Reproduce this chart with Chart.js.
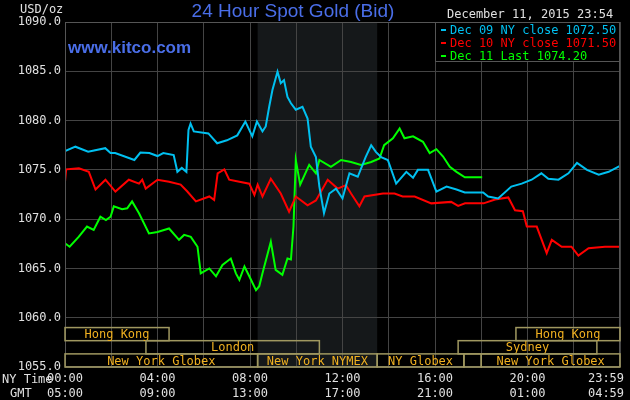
<!DOCTYPE html>
<html><head><meta charset="utf-8">
<script src="https://cdn.jsdelivr.net/npm/chart.js@4"></script>
<style>html,body{margin:0;padding:0;background:#000;}#c{display:block;}</style>
</head><body>
<div style="width:630px;height:400px"><canvas id="c" width="630" height="400"></canvas></div>
<script>
// ---- data (x = NY time in hours, y = USD/oz) ----
const blueHours = [0,0.45,1.0,1.74,1.97,2.17,3.0,3.26,3.65,4.0,4.25,4.7,4.86,5.05,5.25,5.34,5.43,5.57,6.2,6.58,7.0,7.45,7.8,8.1,8.3,8.54,8.68,8.83,8.97,9.19,9.33,9.47,9.62,9.77,9.98,10.27,10.49,10.63,10.85,11.0,11.2,11.43,11.72,12.0,12.3,12.66,13.0,13.24,13.45,13.67,13.96,14.32,14.76,15.05,15.26,15.7,16.06,16.5,16.93,17.29,18.08,18.3,18.73,19.3,19.75,20.18,20.6,20.9,21.34,21.77,22.14,22.57,23.08,23.51,24];
const blueValues = [1076.9,1077.35,1076.85,1077.2,1076.7,1076.7,1076.0,1076.75,1076.7,1076.4,1076.7,1076.5,1074.8,1075.2,1074.8,1079.05,1079.7,1078.9,1078.7,1077.7,1078.0,1078.5,1079.9,1078.4,1079.9,1078.9,1079.4,1081.4,1083.1,1084.96,1083.8,1084.1,1082.4,1081.75,1081.1,1081.4,1080.2,1077.35,1076.3,1073.3,1070.6,1072.6,1073.1,1072.1,1074.65,1074.3,1076.3,1077.5,1076.8,1076.3,1076.0,1073.6,1074.8,1074.2,1075.0,1075.0,1072.8,1073.3,1073.0,1072.7,1072.7,1072.3,1072.1,1073.3,1073.6,1074.0,1074.65,1074.1,1074.0,1074.65,1075.7,1075.0,1074.5,1074.8,1075.4];
const redHours = [0,0.05,0.6,1.03,1.32,1.75,2.18,2.76,3.2,3.34,3.49,4.0,4.5,5.0,5.29,5.66,6.24,6.45,6.6,6.89,7.1,7.54,7.97,8.19,8.33,8.54,8.9,9.33,9.69,9.98,10.49,10.85,11.36,11.79,12.15,12.37,12.73,12.95,13.75,14.25,14.6,15.12,15.84,16.7,17.0,17.3,18.1,18.6,19.17,19.46,19.8,19.97,20.4,20.83,21.05,21.48,21.9,22.2,22.64,23.35,24];
const redValues = [1073.8,1075.05,1075.15,1074.8,1073.0,1074.0,1072.8,1074.0,1073.6,1074.0,1073.1,1074.0,1073.8,1073.5,1072.8,1071.8,1072.3,1071.95,1074.65,1075.05,1074.0,1073.8,1073.6,1072.45,1073.5,1072.3,1074.1,1072.6,1070.75,1072.3,1071.4,1071.9,1074.0,1073.1,1073.45,1072.6,1071.3,1072.3,1072.6,1072.6,1072.3,1072.3,1071.6,1071.75,1071.35,1071.6,1071.6,1072.0,1072.2,1070.9,1070.8,1069.25,1069.25,1066.55,1067.9,1067.2,1067.2,1066.3,1067.05,1067.2,1067.2];
const greenHours = [0,0.2,0.59,0.95,1.24,1.53,1.77,1.97,2.11,2.47,2.69,2.9,3.2,3.63,4.0,4.5,4.93,5.15,5.44,5.73,5.87,6.24,6.53,6.81,7.17,7.39,7.54,7.76,7.97,8.26,8.4,8.54,8.9,9.11,9.4,9.62,9.77,9.88,9.98,10.17,10.56,10.85,11.0,11.5,11.94,12.37,12.8,13.24,13.6,13.8,14.18,14.47,14.68,15.05,15.48,15.77,16.06,16.35,16.64,16.93,17.29,18.04];
const greenValues = [1067.55,1067.2,1068.2,1069.25,1068.9,1070.25,1069.9,1070.25,1071.3,1071.0,1071.1,1071.8,1070.6,1068.55,1068.7,1069.05,1067.9,1068.4,1068.2,1067.2,1064.5,1065.0,1064.2,1065.35,1066.0,1064.5,1063.85,1065.2,1064.2,1062.8,1063.2,1064.5,1067.7,1064.85,1064.35,1066.0,1065.9,1069.25,1076.0,1073.5,1075.5,1074.65,1076.0,1075.3,1076.0,1075.8,1075.5,1075.8,1076.15,1077.5,1078.2,1079.2,1078.2,1078.4,1077.85,1076.7,1077.1,1076.35,1075.3,1074.8,1074.25,1074.25];
const seriesNames = ['Dec 09 NY close 1072.50','Dec 10 NY close 1071.50','Dec 11 Last 1074.20'];
const seriesColors = ['#00c0f0','#ff0000','#00ff00'];
const yTicks = [1055,1060,1065,1070,1075,1080,1085,1090];
const nyLabels = ['00:00','04:00','08:00','12:00','16:00','20:00','23:59'];
const gmtLabels = ['05:00','09:00','13:00','17:00','21:00','01:00','04:59'];
const labelHours = [0,4,8,12,16,20,24];
const sessionNames = ['Hong Kong','Hong Kong','London','Sydney','New York Globex','New York NYMEX','NY Globex','','New York Globex'];
const sessionStart = [0,19.5,3.5,17,0,8.33,13.5,17.25,18];
const sessionEnd   = [4.5,24,11,23,8.33,13.5,17.25,18,24];
const sessionRow   = [0,0,1,1,2,2,2,2,2];
const nymexShade = [8.33,13.5];

const toPts=(h,v)=>h.map((x,i)=>({x,y:v[i]}));
const mono='"DejaVu Sans Mono", monospace';

const deco={
 id:'deco',
 beforeDraw(c){
  const ctx=c.ctx,a=c.chartArea,x=c.scales.x;
  ctx.save();ctx.fillStyle='#000';ctx.fillRect(0,0,c.width,c.height);
  ctx.fillStyle='#15181a';
  const s=x.getPixelForValue(nymexShade[0]),e=x.getPixelForValue(nymexShade[1]);
  ctx.fillRect(s,a.top,e-s,a.bottom-a.top);
  ctx.restore();
 },
 afterDatasetsDraw(c){
  const ctx=c.ctx,a=c.chartArea,x=c.scales.x,y=c.scales.y;
  ctx.save();
  // frame
  ctx.strokeStyle='#555';ctx.lineWidth=1;
  ctx.strokeRect(a.left+0.5,a.top+0.5,a.right-a.left-1,a.bottom-a.top-1);
  // sessions
  const rowTop=[1059,1057.67,1056.33],rowBot=[1057.67,1056.33,1055];
  ctx.font='12px '+mono;ctx.textAlign='center';ctx.textBaseline='middle';
  sessionNames.forEach((n,i)=>{
   const x0=x.getPixelForValue(sessionStart[i]),x1=x.getPixelForValue(sessionEnd[i]);
   const y0=y.getPixelForValue(rowTop[sessionRow[i]]),y1=y.getPixelForValue(rowBot[sessionRow[i]]);
   ctx.strokeStyle='#a09860';ctx.lineWidth=1.5;
   ctx.strokeRect(x0,y0,x1-x0,y1-y0);
   if(n){ctx.fillStyle='#f0b020';ctx.fillText(n,(x0+x1)/2,(y0+y1)/2+1);}
  });
  // x labels
  ctx.fillStyle='#e0e0e0';ctx.font='12px '+mono;
  labelHours.forEach((h,i)=>{
   let px=x.getPixelForValue(h);
   if(i===labelHours.length-1) px=606;
   ctx.fillText(nyLabels[i],px,379);ctx.fillText(gmtLabels[i],px,394);
  });
  ctx.textAlign='left';ctx.fillText('NY Time',2,380);ctx.fillText('GMT',10,394);
  ctx.fillText('USD/oz',20,10);
  // title
  ctx.fillStyle='#4a6ee8';ctx.textAlign='center';ctx.font='19px "Liberation Sans", Arial';
  ctx.fillText('24 Hour Spot Gold (Bid)',293,12);
  ctx.textAlign='left';ctx.font='bold 17px "Liberation Sans", Arial';
  ctx.fillText('www.kitco.com',68,48);
  // date
  ctx.fillStyle='#e0e0e0';ctx.font='12px '+mono;
  ctx.fillText('December 11, 2015 23:54',447,15);
  // legend box
  ctx.fillStyle='#000';ctx.fillRect(436,23,183,38);
  ctx.strokeStyle='#555';ctx.lineWidth=1;ctx.strokeRect(435.5,22.5,184,39);
  seriesNames.forEach((n,i)=>{
   const ly=30+i*13;
   ctx.fillStyle=seriesColors[i];
   ctx.fillRect(441,ly-1,5,2);
   ctx.fillText(n,450,ly+1);
  });
  ctx.restore();
 }
};

new Chart(document.getElementById('c'),{
 type:'line',
 data:{datasets:[
  {data:toPts(blueHours,blueValues),borderColor:seriesColors[0]},
  {data:toPts(redHours,redValues),borderColor:seriesColors[1]},
  {data:toPts(greenHours,greenValues),borderColor:seriesColors[2]}
 ].map(d=>Object.assign(d,{borderWidth:2,pointRadius:0,tension:0,stepped:false}))},
 options:{
  responsive:false,animation:false,events:[],
  layout:{padding:{top:22,right:10,left:0,bottom:0}},
  plugins:{legend:{display:false},tooltip:{enabled:false}},
  scales:{
   x:{type:'linear',min:0,max:24,
      afterFit(s){s.height=33;},
      ticks:{stepSize:2,display:false},
      grid:{color:'#444',drawTicks:false},border:{display:false}},
   y:{min:1055,max:1090,
      afterBuildTicks(s){s.ticks=yTicks.map(v=>({value:v}));},
      afterFit(s){s.width=65;},
      ticks:{color:'#e0e0e0',font:{family:'DejaVu Sans Mono',size:12},padding:4,callback:v=>v.toFixed(1)},
      grid:{color:'#444',drawTicks:false},border:{display:false}}
  }
 },
 plugins:[deco]
});
</script>
</body></html>
